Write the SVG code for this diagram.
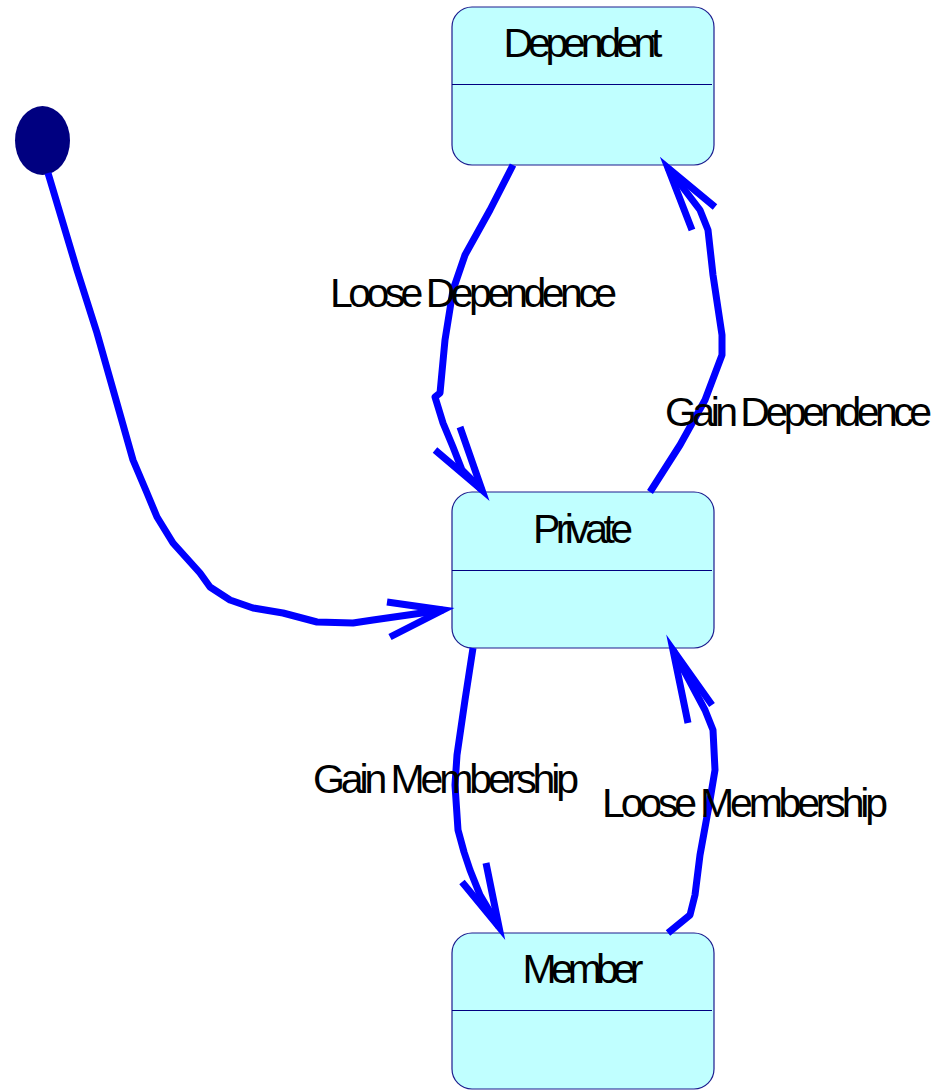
<svg xmlns="http://www.w3.org/2000/svg" width="941" height="1090" viewBox="0 0 941 1090">
  <style>
    .state rect { fill: #c0ffff; stroke: #1c1c8e; stroke-width: 1.2; }
    .state line { stroke: #000080; stroke-width: 1.2; }
    .name { font-family: "Liberation Sans", Arial, sans-serif; font-size: 41px; fill: #000; text-anchor: middle; }
    .label { font-family: "Liberation Sans", Arial, sans-serif; font-size: 41px; fill: #000; }
    .edge { fill: none; stroke: #0000ff; stroke-width: 7; stroke-linejoin: round; stroke-linecap: butt; }
    .head { fill: none; stroke: #0000ff; stroke-width: 7; stroke-linejoin: miter; stroke-miterlimit: 10; }
  </style>
  <rect width="941" height="1090" fill="#ffffff"/>

  <!-- initial pseudo-state -->
  <g id="initial">
    <ellipse cx="42.5" cy="140.5" rx="27.5" ry="34.5" fill="#000080"/>
  </g>

  <!-- states -->
  <g id="dependent" class="state">
    <rect x="452" y="7" width="262" height="158" rx="20" ry="20"/>
    <line x1="452" y1="84.5" x2="712" y2="84.5"/>
    <text class="name" x="583" y="57" textLength="159" lengthAdjust="spacing">Dependent</text>
  </g>
  <g id="private" class="state">
    <rect x="452" y="492" width="262" height="156" rx="20" ry="20"/>
    <line x1="452" y1="570.5" x2="712" y2="570.5"/>
    <text class="name" x="583" y="543" textLength="100" lengthAdjust="spacing">Private</text>
  </g>
  <g id="member" class="state">
    <rect x="452" y="933" width="262" height="156" rx="20" ry="20"/>
    <line x1="452" y1="1010.5" x2="712" y2="1010.5"/>
    <text class="name" x="583" y="983" textLength="121" lengthAdjust="spacing">Member</text>
  </g>

  <!-- transitions -->
  <g id="connectors">
    <!-- initial -> Private -->
    <polyline class="edge" points="48,173 77,270 97,333 118,407 133,460 147,493 157,517 173,543 200,573 210,587 230,600 253,608 283,613 317,622 353,623 373,620 443,610"/>
    <polyline class="head" points="387,602 443,610 390,637"/>

    <!-- Dependent -> Private : Loose Dependence -->
    <polyline class="edge" points="513,165 490,210 465,255 453,290 445,340 440,393 435,397 443,423 453,447 462,470 482,490"/>
    <polyline class="head" points="435,450 482,490 460,427"/>

    <!-- Private -> Dependent : Gain Dependence -->
    <polyline class="edge" points="650,492 680,445 705,400 722,355 722,335 713,275 708,230 700,210 668,168"/>
    <polyline class="head" points="715,207 668,168 692,230"/>

    <!-- Private -> Member : Gain Membership -->
    <polyline class="edge" points="473,648 465,700 457,755 455,785 458,830 464,852 470,870 480,895 499,927"/>
    <polyline class="head" points="462,882 499,927 486,863"/>

    <!-- Member -> Private : Loose Membership -->
    <polyline class="edge" points="668,933 690,915 695,895 700,855 710,800 715,770 713,730 705,710 673,650"/>
    <polyline class="head" points="712,705 673,650 688,723"/>
  </g>

  <!-- transition labels -->
  <g id="labels">
    <text class="label" x="330" y="307" textLength="287" lengthAdjust="spacing">Loose Dependence</text>
    <text class="label" x="665" y="426" textLength="267" lengthAdjust="spacing">Gain Dependence</text>
    <text class="label" x="313" y="793" textLength="266" lengthAdjust="spacing">Gain Membership</text>
    <text class="label" x="602" y="817" textLength="286" lengthAdjust="spacing">Loose Membership</text>
  </g>
</svg>
